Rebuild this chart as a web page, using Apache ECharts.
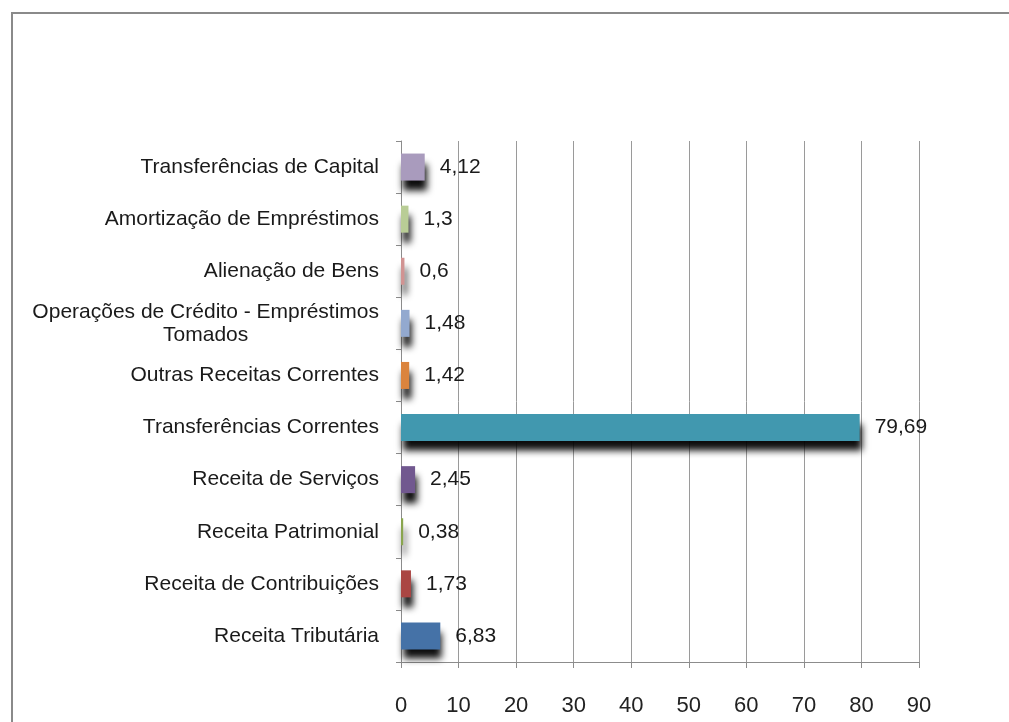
<html>
    <head>
        <meta charset="utf-8">
        <script src="https://cdn.jsdelivr.net/npm/echarts@6/dist/echarts.min.js"></script>
    </head>
    <body>
        <style>
            html, body, #main {
                width: 100%;
                height: 100%;
                margin: 0;
                background: #fff;
            }
        </style>
        <div id="main"></div>
        <script>

        // bottom to top, as the category axis draws them
        var categories = [
            'Receita Tributária',
            'Receita de Contribuições',
            'Receita Patrimonial',
            'Receita de Serviços',
            'Transferências Correntes',
            'Outras Receitas Correntes',
            'Operações de Crédito - Empréstimos\nTomados',
            'Alienação de Bens',
            'Amortização de Empréstimos',
            'Transferências de Capital'
        ];
        var values = [6.83, 1.73, 0.38, 2.45, 79.69, 1.42, 1.48, 0.6, 1.3, 4.12];
        var colors = ['#4572A7', '#AA4643', '#89A54E', '#71588F', '#4198AF',
                      '#DB843D', '#93A9CF', '#D19392', '#B9CD96', '#A99BBD'];
        var xTicks = [0, 90, 10];  // min, max, step

        var chart = echarts.init(document.getElementById('main'));

        var font = '"Liberation Sans", Arial, sans-serif';

        chart.setOption({
            animation: false,
            graphic: [{
                type: 'rect',
                shape: { x: 12, y: 13, width: 1010, height: 720 },
                style: { fill: 'none', stroke: '#8a8a8a', lineWidth: 2 },
                silent: true
            }],
            grid: {
                left: 401,
                right: 90,
                top: 141,
                bottom: 60
            },
            xAxis: {
                type: 'value',
                min: xTicks[0],
                max: xTicks[1],
                interval: xTicks[2],
                axisLine: { show: true, lineStyle: { color: '#8c8c8c' } },
                axisTick: { show: true, length: 6, lineStyle: { color: '#8c8c8c' } },
                splitLine: { show: true, lineStyle: { color: '#9a9a9a' } },
                axisLabel: {
                    margin: 33,
                    fontSize: 22,
                    fontFamily: font,
                    color: '#222'
                }
            },
            yAxis: {
                type: 'category',
                data: categories,
                axisLine: { show: true, lineStyle: { color: '#8c8c8c' } },
                axisTick: { show: true, length: 5, lineStyle: { color: '#8c8c8c' } },
                axisLabel: {
                    margin: 22,
                    fontSize: 21,
                    fontFamily: font,
                    color: '#1a1a1a',
                    lineHeight: 23,
                    formatter: function (v) {
                        return v.split('\n').map(function (s) {
                            return '{c|' + s + '}';
                        }).join('\n');
                    },
                    rich: {
                        c: {
                            align: 'center',
                            fontSize: 21,
                            fontFamily: font,
                            color: '#1a1a1a',
                            lineHeight: 23
                        }
                    }
                }
            },
            series: [{
                type: 'bar',
                barWidth: 27,
                data: values.map(function (v, i) {
                    return {
                        value: v,
                        itemStyle: {
                            color: colors[i],
                            shadowColor: 'rgba(0,0,0,0.95)',
                            shadowBlur: 7,
                            shadowOffsetX: 2,
                            shadowOffsetY: 10
                        }
                    };
                }),
                label: {
                    show: true,
                    position: 'right',
                    distance: 15,
                    fontSize: 21,
                    fontFamily: font,
                    color: '#1a1a1a',
                    formatter: function (p) {
                        return String(p.value).replace('.', ',');
                    }
                }
            }]
        });

        </script>
    </body>
</html>
